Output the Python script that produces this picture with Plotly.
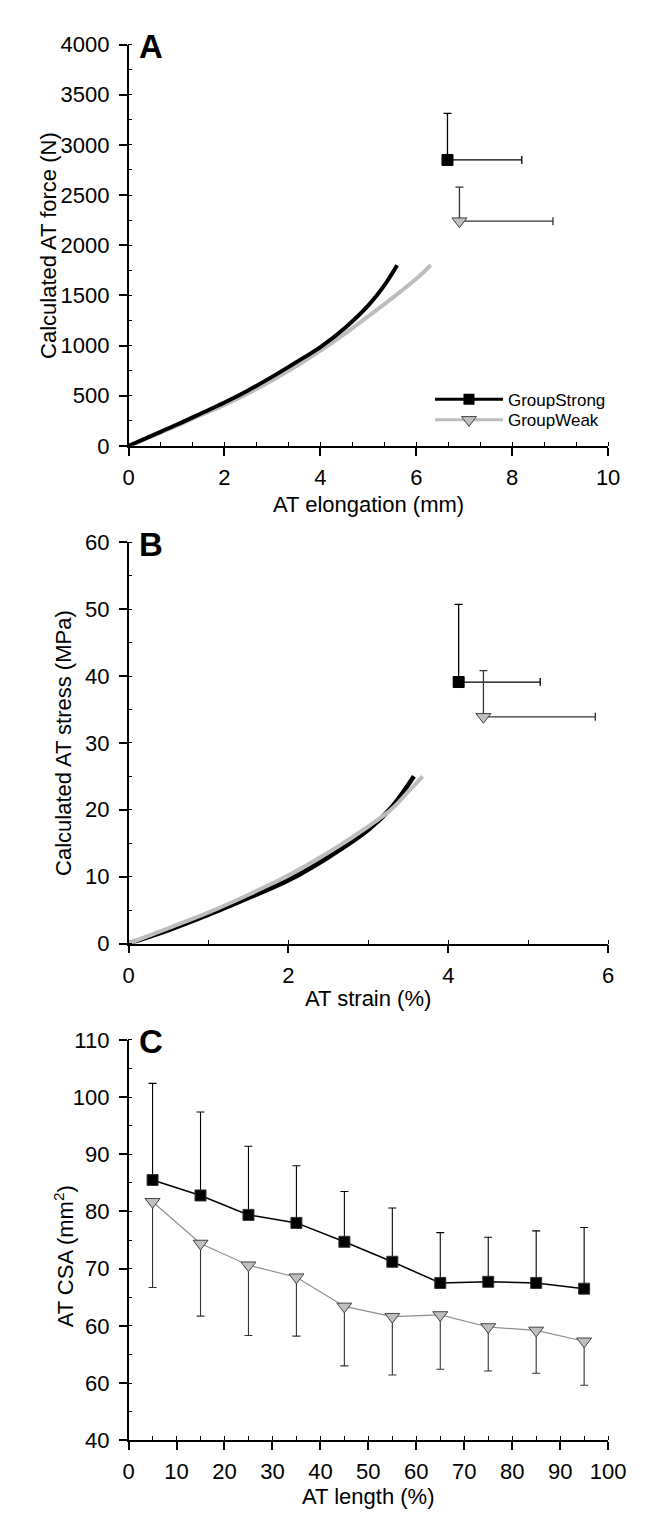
import plotly.graph_objects as go

# ---------------- Data ----------------
# Panel A: force-elongation curves
A_strong_x = [0, 0.5, 1, 1.5, 2, 2.5, 3, 3.5, 4, 4.5, 5, 5.33, 5.6]
A_strong_y = [0, 105, 210, 320, 432, 555, 690, 835, 985, 1170, 1400, 1597, 1800]
A_weak_x = [0, 0.5, 1, 1.5, 2, 2.5, 3, 3.5, 4, 4.5, 5, 5.5, 6, 6.3]
A_weak_y = [0, 98, 200, 305, 409, 525, 655, 795, 950, 1115, 1293, 1473, 1665, 1800]
# Panel A: maximal values (mean + SD)
A_max_strong = dict(x=6.65, y=2850, xsd=1.55, ysd=465)
A_max_weak = dict(x=6.9, y=2240, xsd=1.95, ysd=340)

# Panel B: stress-strain curves
B_strong_x = [0, 0.5, 1, 1.5, 2, 2.5, 3, 3.3, 3.57]
B_strong_y = [0, 2.0, 4.3, 6.8, 9.45, 12.9, 17.0, 20.5, 25]
B_weak_x = [0, 0.5, 1, 1.5, 2, 2.5, 3, 3.3, 3.5, 3.68]
B_weak_y = [0, 2.3, 4.65, 7.3, 10.2, 13.6, 17.5, 20.2, 22.7, 25]
B_max_strong = dict(x=4.13, y=39.1, xsd=1.02, ysd=11.6)
B_max_weak = dict(x=4.44, y=33.9, xsd=1.40, ysd=6.9)

# Panel C: CSA along tendon length
C_x = [5, 15, 25, 35, 45, 55, 65, 75, 85, 95]
C_strong = [85.5, 82.8, 79.4, 78.0, 74.7, 71.2, 67.5, 67.7, 67.5, 66.5]
C_strong_sd = [16.9, 14.6, 12.0, 10.0, 8.8, 9.4, 8.8, 7.8, 9.1, 10.7]
C_weak = [81.7, 74.4, 70.6, 68.5, 63.4, 61.6, 61.9, 59.8, 59.2, 57.3]
C_weak_sd = [15.0, 12.7, 12.3, 10.3, 10.4, 10.2, 9.5, 7.7, 7.5, 7.7]
C_yticks = [40, 50, 60, 70, 80, 90, 100, 110]
C_yticklabels = ["40", "60", "60", "70", "80", "90", "100", "110"]

# ---------------- Styles ----------------
BLACK = "#000000"
CURVE_GRAY = "#bdbdbd"
TRI_FILL = "#bfbfbf"
TRI_EDGE = "#444444"
WEAK_LINE = "#8f8f8f"
FONT = "Liberation Sans, Arial, sans-serif"

fig = go.Figure()

def max_point(d, xa, ya, symbol, size, fill, edge, ecol):
    fig.add_trace(go.Scatter(
        x=[d["x"]], y=[d["y"]], mode="markers", xaxis=xa, yaxis=ya, showlegend=False,
        marker=dict(symbol=symbol, size=size, color=fill, line=dict(color=edge, width=1)),
        error_x=dict(type="data", symmetric=False, array=[d["xsd"]], arrayminus=[0],
                     color=ecol, thickness=1.3, width=4),
        error_y=dict(type="data", symmetric=False, array=[d["ysd"]], arrayminus=[0],
                     color=ecol, thickness=1.3, width=4),
    ))

# Panel A
fig.add_trace(go.Scatter(x=A_weak_x, y=A_weak_y, mode="lines", line=dict(color=CURVE_GRAY, width=4, shape="spline"),
                         xaxis="x", yaxis="y", showlegend=False))
fig.add_trace(go.Scatter(x=A_strong_x, y=A_strong_y, mode="lines", line=dict(color=BLACK, width=4, shape="spline"),
                         xaxis="x", yaxis="y", showlegend=False))
max_point(A_max_strong, "x", "y", "square", 11, BLACK, BLACK, BLACK)
max_point(A_max_weak, "x", "y", "triangle-down", 13, TRI_FILL, TRI_EDGE, "#333333")

# Legend entries (one legend per entry for exact spacing)
fig.add_trace(go.Scatter(x=[None], y=[None], mode="lines+markers", name="GroupStrong", legend="legend",
                         line=dict(color=BLACK, width=3),
                         marker=dict(symbol="square", size=11, color=BLACK), xaxis="x", yaxis="y"))
fig.add_trace(go.Scatter(x=[None], y=[None], mode="lines+markers", name="GroupWeak", legend="legend2",
                         line=dict(color=CURVE_GRAY, width=3),
                         marker=dict(symbol="triangle-down", size=13, color=TRI_FILL, line=dict(color=TRI_EDGE, width=1)),
                         xaxis="x", yaxis="y"))

# Panel B
fig.add_trace(go.Scatter(x=B_strong_x, y=B_strong_y, mode="lines", line=dict(color=BLACK, width=4.5, shape="spline"),
                         xaxis="x2", yaxis="y2", showlegend=False))
fig.add_trace(go.Scatter(x=B_weak_x, y=B_weak_y, mode="lines", line=dict(color=CURVE_GRAY, width=4, shape="spline"),
                         xaxis="x2", yaxis="y2", showlegend=False))
max_point(B_max_strong, "x2", "y2", "square", 11, BLACK, BLACK, BLACK)
max_point(B_max_weak, "x2", "y2", "triangle-down", 13, TRI_FILL, TRI_EDGE, "#333333")

# Panel C
fig.add_trace(go.Scatter(
    x=C_x, y=C_weak, mode="lines+markers", xaxis="x3", yaxis="y3", showlegend=False,
    line=dict(color=WEAK_LINE, width=1.2),
    marker=dict(symbol="triangle-down", size=13, color=TRI_FILL, line=dict(color=TRI_EDGE, width=1)),
    error_y=dict(type="data", symmetric=False, array=[0] * len(C_x), arrayminus=C_weak_sd,
                 color="#333333", thickness=1.1, width=4),
))
fig.add_trace(go.Scatter(
    x=C_x, y=C_strong, mode="lines+markers", xaxis="x3", yaxis="y3", showlegend=False,
    line=dict(color=BLACK, width=1.5),
    marker=dict(symbol="square", size=11, color=BLACK, line=dict(color="#333333", width=1)),
    error_y=dict(type="data", symmetric=False, array=C_strong_sd, arrayminus=[0] * len(C_x),
                 color=BLACK, thickness=1.1, width=4),
))

W, H = 647, 1517
X0, X1 = 119, 617
xdom = [X0 / W, X1 / W]
PANELS = {"A": (25, 433), "B": (531, 939), "C": (1037, 1444)}

def ydom(top, bottom):
    return [1 - bottom / H, 1 - top / H]

minor_common = dict(ticks="inside", ticklen=4, tickwidth=1, tickcolor=BLACK, showgrid=False)
axis_common = dict(
    showline=True, linecolor=BLACK, linewidth=1.5, ticks="outside", ticklen=8, tickwidth=1.5,
    tickcolor=BLACK, showgrid=False, zeroline=False, mirror=False,
    tickfont=dict(family=FONT, size=22, color=BLACK),
)
xax = dict(axis_common, ticklabelstandoff=3)
yax = dict(axis_common, ticklabelstandoff=5)
legend_common = dict(x=432 / W, xanchor="left", yanchor="middle",
                     font=dict(family=FONT, size=17, color=BLACK), bgcolor="rgba(0,0,0,0)",
                     itemwidth=68)

fig.update_layout(
    width=W, height=H, margin=dict(l=0, r=0, t=0, b=0),
    paper_bgcolor="white", plot_bgcolor="white",
    font=dict(family=FONT, color=BLACK),
    xaxis=dict(xax, domain=xdom, anchor="y", range=[0, 10], dtick=2, tick0=0,
               minor=dict(minor_common, dtick=2 / 3, tick0=0)),
    yaxis=dict(yax, domain=ydom(*PANELS["A"]), anchor="x", range=[0, 4000], dtick=500,
               minor=dict(minor_common, dtick=250)),
    xaxis2=dict(xax, domain=xdom, anchor="y2", range=[0, 6], dtick=2, tick0=0,
                minor=dict(minor_common, dtick=1)),
    yaxis2=dict(yax, domain=ydom(*PANELS["B"]), anchor="x2", range=[0, 60], dtick=10,
                minor=dict(minor_common, dtick=5)),
    xaxis3=dict(xax, domain=xdom, anchor="y3", range=[0, 100], dtick=10, tick0=0,
                minor=dict(minor_common, dtick=5)),
    yaxis3=dict(yax, domain=ydom(*PANELS["C"]), anchor="x3", range=[40, 110],
                tickmode="array", tickvals=C_yticks, ticktext=C_yticklabels,
                minor=dict(minor_common, dtick=5, tick0=40)),
    legend=dict(legend_common, y=1 - 386 / H),
    legend2=dict(legend_common, y=1 - 407 / H),
    showlegend=True,
)

title_font = dict(family=FONT, size=22, color=BLACK)
# axis titles: (text, x px, y px, angle)
axis_titles = [
    ("AT elongation (mm)", (X0 + X1) / 2, 493, 0),
    ("AT strain (%)", (X0 + X1) / 2, 995, 0),
    ("AT length (%)", (X0 + X1) / 2, 1501, 0),
    ("Calculated AT force (N)", 36, sum(PANELS["A"]) / 2, -90),
    ("Calculated AT stress (MPa)", 52, sum(PANELS["B"]) / 2, -90),
    ("AT CSA (mm<sup>2</sup>)", 52, 1257, -90),
]
for text, px, py, ang in axis_titles:
    fig.add_annotation(text=text, xref="paper", yref="paper", x=px / W, y=1 - py / H,
                       xanchor="center", yanchor="middle", textangle=ang, showarrow=False,
                       font=title_font)

for letter in ["A", "B", "C"]:
    top = PANELS[letter][0]
    fig.add_annotation(text=f"<b>{letter}</b>", xref="paper", yref="paper", x=128 / W, y=1 - (top + 2) / H,
                       xanchor="left", yanchor="middle", showarrow=False,
                       font=dict(family=FONT, size=33, color=BLACK))

fig.write_html("out.html")
